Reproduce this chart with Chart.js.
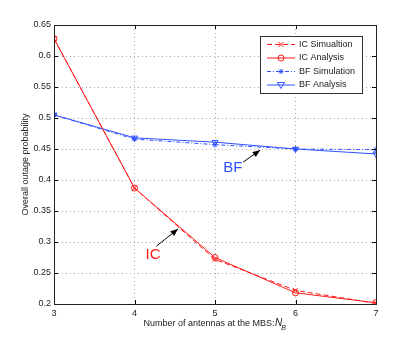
<!DOCTYPE html>
<html lang="en">
<head>
  <meta charset="UTF-8">
  <title>Overall outage probability</title>
  <script src="https://cdn.jsdelivr.net/npm/chart.js"></script>
  <style>
    body { margin: 0; padding: 0; background: #fff; }
    #wrap { width: 415px; height: 342px; }
  </style>
</head>
<body>
  <div id="wrap"><canvas id="outage" width="415" height="342"></canvas></div>
  <script>
    // data
    const antennas = [3, 4, 5, 6, 7];
    const icSim = [0.628, 0.387, 0.272, 0.222, 0.201];
    const icAna = [0.628, 0.387, 0.275, 0.218, 0.202];
    const bfSim = [0.505, 0.466, 0.457, 0.450, 0.449];
    const bfAna = [0.505, 0.468, 0.461, 0.450, 0.442];
    const yTicks = [0.2, 0.25, 0.3, 0.35, 0.4, 0.45, 0.5, 0.55, 0.6, 0.65];

    const RED = '#ff1a1a';
    const BLUE = '#2f50ff';
    const FONT = '"Liberation Sans", Arial, sans-serif';

    const pts = arr => arr.map((v, i) => ({ x: antennas[i], y: v }));

    // matlab-ish frame, inward ticks, annotations, legend and x title
    const decor = {
      id: 'decor',
      afterDraw(chart) {
        const ctx = chart.ctx;
        const a = chart.chartArea;
        const xs = chart.scales.x, ys = chart.scales.y;
        ctx.save();

        // inward ticks
        ctx.strokeStyle = '#000';
        ctx.lineWidth = 1;
        ctx.beginPath();
        antennas.forEach(v => {
          const px = Math.round(xs.getPixelForValue(v)) + 0.5;
          ctx.moveTo(px, a.bottom); ctx.lineTo(px, a.bottom - 4);
          ctx.moveTo(px, a.top); ctx.lineTo(px, a.top + 4);
        });
        yTicks.forEach(v => {
          const py = Math.round(ys.getPixelForValue(v)) + 0.5;
          ctx.moveTo(a.left, py); ctx.lineTo(a.left + 4, py);
          ctx.moveTo(a.right, py); ctx.lineTo(a.right - 4, py);
        });
        ctx.stroke();

        // frame
        ctx.strokeStyle = '#222';
        ctx.strokeRect(Math.round(a.left) + 0.5, Math.round(a.top) + 0.5,
          Math.round(a.right - a.left), Math.round(a.bottom - a.top));

        // arrows + labels
        function arrow(x0, y0, x1, y1) {
          const ax = xs.getPixelForValue(x0), ay = ys.getPixelForValue(y0);
          const bx = xs.getPixelForValue(x1), by = ys.getPixelForValue(y1);
          const ang = Math.atan2(by - ay, bx - ax);
          ctx.strokeStyle = '#000';
          ctx.fillStyle = '#000';
          ctx.lineWidth = 1;
          ctx.beginPath();
          ctx.moveTo(ax, ay); ctx.lineTo(bx, by);
          ctx.stroke();
          ctx.beginPath();
          ctx.moveTo(bx, by);
          ctx.lineTo(bx - 8 * Math.cos(ang - 0.4), by - 8 * Math.sin(ang - 0.4));
          ctx.lineTo(bx - 8 * Math.cos(ang + 0.4), by - 8 * Math.sin(ang + 0.4));
          ctx.closePath();
          ctx.fill();
        }
        arrow(4.27, 0.293, 4.54, 0.321);
        arrow(5.35, 0.429, 5.56, 0.448);

        ctx.font = '15px ' + FONT;
        ctx.textAlign = 'center';
        ctx.textBaseline = 'middle';
        ctx.fillStyle = RED;
        ctx.fillText('IC', xs.getPixelForValue(4.23), ys.getPixelForValue(0.279));
        ctx.fillStyle = BLUE;
        ctx.fillText('BF', xs.getPixelForValue(5.22), ys.getPixelForValue(0.419));

        // legend box
        const lx = 260.5, ly = 36.5, lw = 102, lh = 57;
        ctx.fillStyle = '#fff';
        ctx.fillRect(lx, ly, lw, lh);
        ctx.strokeStyle = '#333';
        ctx.lineWidth = 1;
        ctx.strokeRect(lx, ly, lw, lh);
        const items = [
          { label: 'IC Simualtion', color: RED, dash: [5, 3], marker: 'x' },
          { label: 'IC Analysis', color: RED, dash: [], marker: 'o' },
          { label: 'BF Simulation', color: BLUE, dash: [4, 2, 1, 2], marker: '*' },
          { label: 'BF Analysis', color: BLUE, dash: [], marker: 'v' }
        ];
        items.forEach((it, i) => {
          const cy = 44.5 + i * 13.5;
          ctx.strokeStyle = it.color;
          ctx.setLineDash(it.dash);
          ctx.beginPath();
          ctx.moveTo(267, cy); ctx.lineTo(295, cy);
          ctx.stroke();
          ctx.setLineDash([]);
          const mx = 281;
          ctx.beginPath();
          if (it.marker === 'x') {
            ctx.moveTo(mx - 2.5, cy - 2.5); ctx.lineTo(mx + 2.5, cy + 2.5);
            ctx.moveTo(mx + 2.5, cy - 2.5); ctx.lineTo(mx - 2.5, cy + 2.5);
          } else if (it.marker === 'o') {
            ctx.arc(mx, cy, 3, 0, Math.PI * 2);
          } else if (it.marker === '*') {
            ctx.moveTo(mx - 2.5, cy); ctx.lineTo(mx + 2.5, cy);
            ctx.moveTo(mx, cy - 2.5); ctx.lineTo(mx, cy + 2.5);
            ctx.moveTo(mx - 2, cy - 2); ctx.lineTo(mx + 2, cy + 2);
            ctx.moveTo(mx + 2, cy - 2); ctx.lineTo(mx - 2, cy + 2);
          } else {
            ctx.moveTo(mx - 3.5, cy - 2.5); ctx.lineTo(mx + 3.5, cy - 2.5);
            ctx.lineTo(mx, cy + 3.5); ctx.closePath();
          }
          ctx.stroke();
          ctx.fillStyle = '#222';
          ctx.font = '9px ' + FONT;
          ctx.textAlign = 'left';
          ctx.fillText(it.label, 299, cy);
        });

        // x axis title with italic N and subscript B
        ctx.fillStyle = '#222';
        ctx.textAlign = 'left';
        ctx.textBaseline = 'alphabetic';
        const main = 'Number of antennas at the MBS:';
        ctx.font = '9px ' + FONT;
        const w1 = ctx.measureText(main).width;
        ctx.font = 'italic 10px ' + FONT;
        const w2 = ctx.measureText('N').width;
        ctx.font = 'italic 7px ' + FONT;
        const w3 = ctx.measureText('B').width;
        let tx = (a.left + a.right) / 2 - (w1 + w2 + w3) / 2;
        const ty = 326;
        ctx.font = '9px ' + FONT;
        ctx.fillText(main, tx, ty);
        tx += w1 + 0.5;
        ctx.font = 'italic 10px ' + FONT;
        ctx.fillText('N', tx, ty);
        tx += w2;
        ctx.font = 'italic 7px ' + FONT;
        ctx.fillText('B', tx - 1, ty + 4);

        ctx.restore();
      }
    };

    new Chart(document.getElementById('outage'), {
      type: 'line',
      data: {
        datasets: [
          {
            label: 'IC Simualtion', data: pts(icSim),
            borderColor: RED, backgroundColor: 'transparent', borderWidth: 1,
            borderDash: [5, 3], pointStyle: 'crossRot', pointRadius: 3.5,
            pointBorderColor: RED, pointBorderWidth: 1
          },
          {
            label: 'IC Analysis', data: pts(icAna),
            borderColor: RED, backgroundColor: 'transparent', borderWidth: 1,
            pointStyle: 'circle', pointRadius: 3,
            pointBorderColor: RED, pointBorderWidth: 1
          },
          {
            label: 'BF Simulation', data: pts(bfSim),
            borderColor: BLUE, backgroundColor: 'transparent', borderWidth: 1,
            borderDash: [4, 2, 1, 2], pointStyle: 'star', pointRadius: 3,
            pointBorderColor: BLUE, pointBorderWidth: 1
          },
          {
            label: 'BF Analysis', data: pts(bfAna),
            borderColor: BLUE, backgroundColor: 'transparent', borderWidth: 1,
            pointStyle: 'triangle', rotation: 180, pointRadius: 3.5,
            pointBorderColor: BLUE, pointBorderWidth: 1
          }
        ]
      },
      options: {
        responsive: false,
        animation: false,
        layout: { padding: { left: 18, top: 25, right: 39, bottom: 0 } },
        plugins: { legend: { display: false }, tooltip: { enabled: false } },
        scales: {
          x: {
            type: 'linear', min: 3, max: 7,
            afterBuildTicks: s => { s.ticks = antennas.map(v => ({ value: v })); },
            afterFit: s => { s.height = 38; },
            grid: { color: '#aaa', drawTicks: false },
            border: { display: false, dash: [1, 3] },
            ticks: { color: '#222', font: { family: FONT, size: 9 }, padding: 4, maxRotation: 0 }
          },
          y: {
            type: 'linear', min: 0.2, max: 0.65,
            afterBuildTicks: s => { s.ticks = yTicks.map(v => ({ value: v })); },
            afterFit: s => { s.width = 36; },
            grid: { color: '#aaa', drawTicks: false },
            border: { display: false, dash: [1, 3] },
            title: { display: true, text: 'Overall outage probability', color: '#222', font: { family: FONT, size: 9 }, padding: 2 },
            ticks: { color: '#222', font: { family: FONT, size: 9 }, padding: 3, callback: v => String(+v.toFixed(2)) }
          }
        }
      },
      plugins: [decor]
    });
  </script>
</body>
</html>
